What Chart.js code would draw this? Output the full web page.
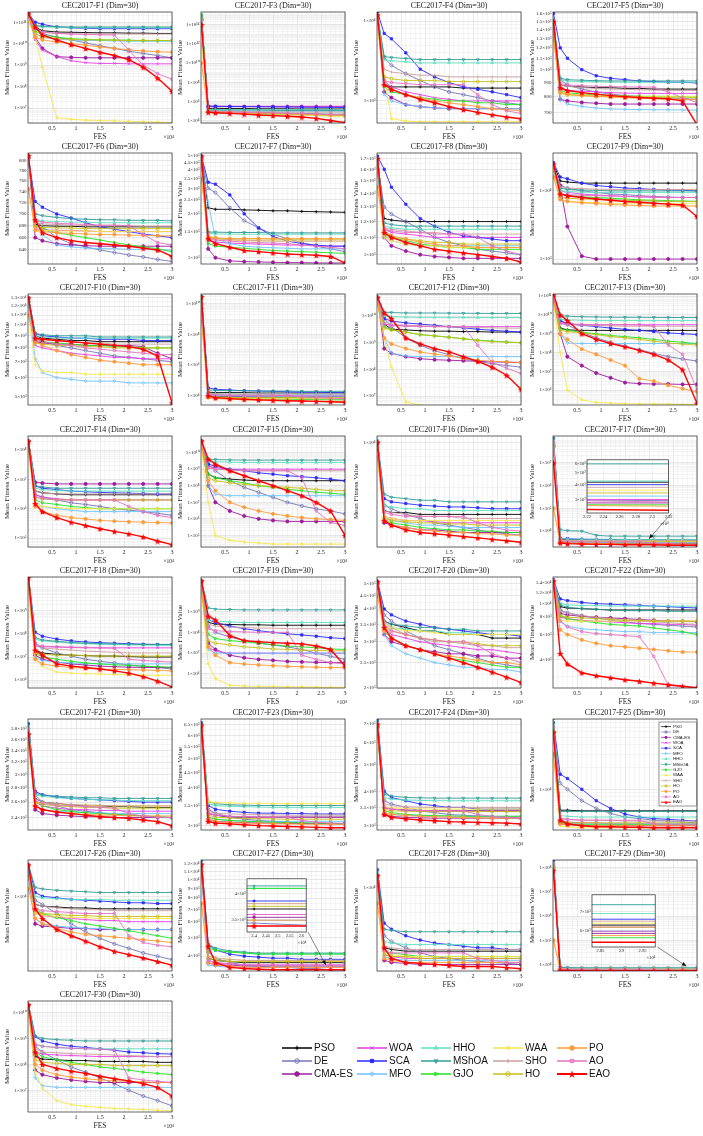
<!DOCTYPE html>
<html>
<head>
<meta charset="utf-8">
<title>CEC2017 convergence curves</title>
<script src="https://cdn.jsdelivr.net/npm/chart.js@4.4.1/dist/chart.umd.min.js"></script>
<style>
  html, body { margin: 0; padding: 0; background: #fff; }
  #page { position: relative; width: 703px; height: 1136px; overflow: hidden; background: #fff; }
  #page canvas { position: absolute; }
  .lg { position: absolute; font: 10px "Liberation Sans", Arial, sans-serif; color: #111; line-height: 14px; white-space: nowrap; }
</style>
</head>
<body>
<div id="page"></div>
<script>
var algos = ['PSO', 'DE', 'CMA-ES', 'WOA', 'SCA', 'MFO', 'HHO', 'MShOA', 'GJO', 'WAA', 'SHO', 'HO', 'PO', 'AO', 'EAO'];
var fes = [0.01, 0.15, 0.3, 0.6, 0.9, 1.2, 1.5, 1.8, 2.1, 2.4, 2.7, 3];   // x 10^4

// one row per algorithm (same order as algos), one value per fes point
var F1 = [
  [2e11,6e10,4e10,3.5e10,3.4e10,3.3e10,3.2e10,3.2e10,3.1e10,3.1e10,3e10,3e10],
  [2e11,7e10,3e10,2e10,1.5e10,1.1e10,8e9,6e9,4.5e9,3.5e9,2.8e9,2.2e9],
  [2e11,2e10,6e9,2.5e9,2.3e9,2.2e9,2.2e9,2.2e9,2.2e9,2.2e9,2.2e9,2.2e9],
  [2e11,1.5e10,5e9,2.5e9,1.6e9,1.3e9,1.2e9,1.2e9,1.15e9,1.15e9,1.15e9,1.15e9],
  [2.5e11,1e11,8e10,6e10,5.5e10,5.2e10,5e10,5e10,5e10,5e10,5e10,5e10],
  [2e11,3e10,2e10,1.6e10,1.5e10,1.4e10,1.4e10,1.35e10,1.3e10,1.3e10,1.3e10,1.3e10],
  [2.5e11,7e10,6e10,5.8e10,5.6e10,5.5e10,5.5e10,5.5e10,5.5e10,5.5e10,5.5e10,5.5e10],
  [2.5e11,7e10,6.5e10,6.2e10,6e10,6e10,6e10,6e10,6e10,6e10,6e10,6e10],
  [2e11,4e10,2.5e10,2e10,1.7e10,1.6e10,1.5e10,1.5e10,1.45e10,1.4e10,1.4e10,1.4e10],
  [1e11,2e10,8e8,3.5e6,3e6,2.7e6,2.6e6,2.5e6,2.4e6,2.3e6,2.2e6,2.1e6],
  [2e11,5e10,3.5e10,3e10,2.9e10,2.8e10,2.8e10,2.8e10,2.8e10,2.8e10,2.8e10,2.8e10],
  [2e11,3e10,2e10,1.7e10,1.6e10,1.5e10,1.5e10,1.45e10,1.4e10,1.4e10,1.4e10,1.4e10],
  [2e11,2e10,1.5e10,1.2e10,1e10,8.5e9,7e9,6e9,5.2e9,4.6e9,4.2e9,4e9],
  [2e11,5e10,3.5e10,3e10,2.8e10,2.7e10,2.6e10,2.5e10,5e9,1e9,4e8,2.2e8],
  [2.5e11,6e10,2.5e10,1.5e10,9e9,6e9,4e9,2.8e9,1.8e9,8e8,2.5e8,6e7]
];
var F3 = [
  [5e14,2e5,2e5,1.9e5,1.9e5,1.8e5,1.8e5,1.8e5,1.7e5,1.7e5,1.7e5,1.7e5],
  [3e14,1e5,9e4,8.5e4,8e4,7.5e4,7e4,6.5e4,6e4,5.5e4,5e4,5e4],
  [3e14,3e5,3e5,3e5,3e5,3e5,3e5,3e5,3e5,3e5,3e5,3e5],
  [1e14,3.3e5,3.3e5,3.3e5,3.3e5,3.3e5,3.3e5,3.3e5,3.3e5,3.3e5,3.3e5,3.3e5],
  [5e14,3.5e5,3.3e5,3.1e5,3e5,2.9e5,2.8e5,2.7e5,2.6e5,2.5e5,2.5e5,2.4e5],
  [3e14,1.2e5,1.1e5,1e5,1e5,1e5,1e5,1e5,1e5,1e5,1e5,1e5],
  [6e14,1.5e5,1.5e5,1.5e5,1.5e5,1.5e5,1.4e5,1.4e5,1.4e5,1.4e5,1.4e5,1.4e5],
  [8e14,1.3e5,1.3e5,1.3e5,1.3e5,1.3e5,1.2e5,1.2e5,1.2e5,1.2e5,1.2e5,1.2e5],
  [1.2e15,7e4,6.5e4,6e4,5.5e4,5e4,4.8e4,4.5e4,4.3e4,4e4,4e4,4e4],
  [1e12,9e4,8e4,7e4,6e4,5.5e4,5e4,4.5e4,4e4,3.5e4,3e4,2.5e4],
  [4e14,1e5,9.5e4,9e4,9e4,8.5e4,8.5e4,8.5e4,8e4,8e4,8e4,8e4],
  [4e14,8e4,7.5e4,7e4,6.5e4,6e4,5.5e4,5e4,4.8e4,4.5e4,4.2e4,4e4],
  [1e10,1e5,9e4,8e4,7e4,6.5e4,6e4,5.5e4,5e4,4.5e4,4e4,3.8e4],
  [2e14,9e4,8.5e4,8e4,7.5e4,7e4,6.5e4,6e4,5.5e4,5e4,4.5e4,4e4],
  [1e14,8e4,7e4,6e4,5e4,4e4,3.5e4,3e4,2.5e4,1.8e4,1.1e4,6.5e3]
];
var F4 = [
  [1.2e4,1.6e3,1.5e3,1.5e3,1.5e3,1.5e3,1.5e3,1.45e3,1.45e3,1.45e3,1.45e3,1.45e3],
  [1.1e4,3.5e3,2.8e3,2.2e3,1.8e3,1.5e3,1.3e3,1.2e3,1.1e3,1e3,950,900],
  [1.1e4,1.3e3,1.1e3,900,850,820,800,800,800,800,800,800],
  [1.2e4,1.8e3,1.5e3,1.3e3,1.2e3,1.1e3,1.05e3,1e3,1e3,1e3,1e3,1e3],
  [1.3e4,7e3,6e3,4e3,2.5e3,2e3,1.7e3,1.5e3,1.4e3,1.3e3,1.2e3,1.1e3],
  [1.1e4,1.2e3,1e3,900,850,820,800,800,800,800,800,800],
  [1.2e4,3.3e3,3.2e3,3.1e3,3e3,3e3,3e3,3e3,3e3,3e3,3e3,3e3],
  [1.2e4,3.6e3,3.5e3,3.4e3,3.3e3,3.3e3,3.3e3,3.3e3,3.3e3,3.3e3,3.3e3,3.3e3],
  [1.2e4,1.5e3,1.3e3,1.2e3,1.1e3,1.05e3,1e3,1e3,950,950,900,900],
  [8e3,2e3,600,560,550,550,550,550,550,550,550,550],
  [1.2e4,2.5e3,2.3e3,2.2e3,2.1e3,2.1e3,2e3,2e3,2e3,2e3,2e3,2e3],
  [1.2e4,2e3,1.9e3,1.8e3,1.8e3,1.8e3,1.75e3,1.75e3,1.75e3,1.75e3,1.75e3,1.75e3],
  [1e4,1.6e3,1.4e3,1.2e3,1.1e3,1e3,950,900,850,800,780,750],
  [1.1e4,1.8e3,1.7e3,1.65e3,1.6e3,1.6e3,1.6e3,1.6e3,1.2e3,900,750,700],
  [1.2e4,1.6e3,1.4e3,1.2e3,1.05e3,950,850,780,720,670,630,600]
];
var F5 = [
  [1.5e3,880,870,865,860,860,855,855,850,850,850,850],
  [1.45e3,920,880,850,830,815,805,800,795,790,785,780],
  [1.4e3,780,770,760,755,750,750,750,750,750,750,750],
  [1.5e3,850,840,835,830,825,822,820,820,820,820,820],
  [1.6e3,1.2e3,1.1e3,1e3,950,930,920,910,905,900,900,895],
  [1.4e3,780,750,735,725,720,718,716,715,715,714,712],
  [1.5e3,920,910,905,905,902,900,900,900,900,900,900],
  [1.5e3,930,920,915,912,910,910,910,910,910,910,910],
  [1.5e3,840,825,815,810,805,802,800,800,800,798,795],
  [1.3e3,830,815,810,805,802,800,800,800,800,800,800],
  [1.5e3,880,870,860,855,850,848,845,842,840,840,840],
  [1.4e3,820,810,805,800,797,795,793,792,791,790,790],
  [1.3e3,830,815,805,800,795,790,787,785,782,780,778],
  [1.5e3,890,880,875,870,868,866,865,864,830,790,760],
  [1.5e3,860,840,825,815,805,798,792,787,783,770,630]
];
var F6 = [
  [810,682,680,679,679,678,678,678,678,678,678,678],
  [805,690,678,660,650,645,640,636,632,629,625,622],
  [805,660,655,650,648,647,646,646,646,646,646,646],
  [805,675,673,672,672,671,670,670,670,670,670,670],
  [805,722,712,700,693,685,678,674,670,666,663,660],
  [800,695,665,648,645,643,642,642,641,641,640,640],
  [810,690,688,687,686,686,685,685,685,685,685,685],
  [810,700,697,694,692,691,690,690,689,689,689,688],
  [808,680,675,668,664,660,656,652,648,645,642,637],
  [745,672,672,671,671,671,670,670,670,670,670,670],
  [808,685,683,682,681,680,680,680,680,679,679,679],
  [808,678,677,676,676,675,675,675,675,675,675,675],
  [745,672,670,668,667,666,665,665,664,664,663,663],
  [805,688,686,684,683,682,681,681,680,665,652,648],
  [810,690,668,660,655,652,650,648,646,643,640,630]
];
var F7 = [
  [5e3,2.2e3,2.15e3,2.15e3,2.13e3,2.12e3,2.1e3,2.1e3,2.08e3,2.07e3,2.06e3,2.05e3],
  [4.8e3,3e3,2.8e3,2.2e3,1.8e3,1.6e3,1.45e3,1.35e3,1.27e3,1.2e3,1.15e3,1.1e3],
  [4.7e3,1.15e3,1e3,950,940,935,930,925,925,920,920,920],
  [4.8e3,1.3e3,1.28e3,1.26e3,1.25e3,1.24e3,1.23e3,1.22e3,1.22e3,1.21e3,1.2e3,1.2e3],
  [5e3,3.3e3,3.2e3,2.7e3,2e3,1.6e3,1.4e3,1.3e3,1.25e3,1.22e3,1.2e3,1.2e3],
  [4.5e3,2.4e3,1.35e3,1.25e3,1.2e3,1.18e3,1.17e3,1.16e3,1.15e3,1.15e3,1.15e3,1.15e3],
  [4.9e3,1.47e3,1.46e3,1.45e3,1.45e3,1.45e3,1.45e3,1.45e3,1.45e3,1.45e3,1.45e3,1.45e3],
  [5e3,1.5e3,1.5e3,1.49e3,1.49e3,1.49e3,1.48e3,1.48e3,1.48e3,1.48e3,1.48e3,1.48e3],
  [4.8e3,1.25e3,1.2e3,1.18e3,1.16e3,1.14e3,1.12e3,1.11e3,1.1e3,1.09e3,1.08e3,1.07e3],
  [3.5e3,1.35e3,1.33e3,1.32e3,1.31e3,1.3e3,1.3e3,1.3e3,1.3e3,1.3e3,1.3e3,1.3e3],
  [4.9e3,1.38e3,1.35e3,1.33e3,1.32e3,1.31e3,1.3e3,1.3e3,1.3e3,1.3e3,1.3e3,1.3e3],
  [4.8e3,1.38e3,1.36e3,1.35e3,1.35e3,1.35e3,1.34e3,1.34e3,1.34e3,1.34e3,1.34e3,1.34e3],
  [3.5e3,1.4e3,1.37e3,1.35e3,1.35e3,1.35e3,1.35e3,1.35e3,1.35e3,1.35e3,1.35e3,1.35e3],
  [4.8e3,1.35e3,1.32e3,1.3e3,1.28e3,1.27e3,1.26e3,1.25e3,1.22e3,1.2e3,1.18e3,1.15e3],
  [5e3,1.35e3,1.25e3,1.18e3,1.12e3,1.1e3,1.08e3,1.06e3,1.05e3,1.04e3,1.02e3,920]
];
var F8 = [
  [1.7e3,1.22e3,1.21e3,1.2e3,1.2e3,1.2e3,1.2e3,1.2e3,1.2e3,1.2e3,1.2e3,1.2e3],
  [1.65e3,1.3e3,1.25e3,1.2e3,1.15e3,1.1e3,1.07e3,1.05e3,1.03e3,1.02e3,1.01e3,1e3],
  [1.6e3,1.1e3,1.05e3,1.02e3,1e3,990,985,980,980,980,980,980],
  [1.65e3,1.15e3,1.13e3,1.12e3,1.11e3,1.1e3,1.1e3,1.1e3,1.1e3,1.1e3,1.1e3,1.1e3],
  [1.72e3,1.6e3,1.45e3,1.32e3,1.22e3,1.17e3,1.13e3,1.11e3,1.1e3,1.09e3,1.08e3,1.08e3],
  [1.6e3,1.12e3,1.08e3,1.06e3,1.05e3,1.05e3,1.05e3,1.05e3,1.05e3,1.05e3,1.05e3,1.05e3],
  [1.7e3,1.17e3,1.16e3,1.15e3,1.15e3,1.15e3,1.15e3,1.15e3,1.15e3,1.15e3,1.15e3,1.15e3],
  [1.7e3,1.19e3,1.18e3,1.17e3,1.17e3,1.17e3,1.17e3,1.17e3,1.17e3,1.17e3,1.17e3,1.17e3],
  [1.65e3,1.12e3,1.1e3,1.08e3,1.06e3,1.05e3,1.04e3,1.04e3,1.03e3,1.03e3,1.03e3,1.03e3],
  [1.45e3,1.1e3,1.08e3,1.06e3,1.05e3,1.05e3,1.04e3,1.04e3,1.04e3,1.04e3,1.04e3,1.04e3],
  [1.68e3,1.16e3,1.15e3,1.14e3,1.13e3,1.13e3,1.12e3,1.12e3,1.12e3,1.12e3,1.12e3,1.12e3],
  [1.65e3,1.12e3,1.1e3,1.09e3,1.08e3,1.07e3,1.07e3,1.06e3,1.06e3,1.06e3,1.06e3,1.06e3],
  [1.45e3,1.14e3,1.11e3,1.09e3,1.07e3,1.06e3,1.05e3,1.05e3,1.04e3,1.04e3,1.04e3,1.04e3],
  [1.65e3,1.15e3,1.14e3,1.13e3,1.13e3,1.12e3,1.12e3,1.12e3,1.1e3,1.05e3,1.02e3,1e3],
  [1.7e3,1.13e3,1.1e3,1.07e3,1.05e3,1.03e3,1.02e3,1.01e3,1e3,990,980,960]
];
var F9 = [
  [2.5e4,1.4e4,1.35e4,1.3e4,1.3e4,1.3e4,1.3e4,1.3e4,1.3e4,1.3e4,1.3e4,1.3e4],
  [2.2e4,1.2e4,1.1e4,1e4,9.5e3,9e3,8.8e3,8.5e3,8.3e3,8.1e3,8e3,8e3],
  [2.2e4,1.2e4,3e3,1.1e3,1e3,1e3,1e3,1e3,1e3,1e3,1e3,1e3],
  [2.3e4,1e4,9.5e3,9e3,8.7e3,8.5e3,8.3e3,8.2e3,8.1e3,8e3,8e3,8e3],
  [2.6e4,1.6e4,1.5e4,1.3e4,1.2e4,1.15e4,1.1e4,1.08e4,1.05e4,1.03e4,1.02e4,1e4],
  [2e4,9e3,8.5e3,8e3,7.7e3,7.5e3,7.3e3,7.2e3,7.1e3,7e3,7e3,7e3],
  [2.4e4,1e4,9.8e3,9.6e3,9.5e3,9.5e3,9.5e3,9.5e3,9.5e3,9.5e3,9.5e3,9.5e3],
  [2.4e4,1.1e4,1.05e4,1.03e4,1.02e4,1e4,1e4,1e4,1e4,1e4,1e4,1e4],
  [2.2e4,9e3,8.6e3,8.2e3,8e3,7.8e3,7.6e3,7.4e3,7.3e3,7.2e3,7.1e3,7e3],
  [1.6e4,7.5e3,7e3,6.8e3,6.7e3,6.6e3,6.5e3,6.5e3,6.5e3,6.5e3,6.5e3,6.5e3],
  [2.4e4,1.15e4,1.1e4,1.08e4,1.06e4,1.05e4,1.05e4,1.05e4,1.05e4,1.05e4,1.05e4,1.05e4],
  [2.2e4,8e3,7.8e3,7.6e3,7.5e3,7.4e3,7.3e3,7.2e3,7.1e3,7e3,7e3,7e3],
  [1.6e4,7.5e3,7e3,6.7e3,6.5e3,6.3e3,6.2e3,6.1e3,6e3,6e3,6e3,6e3],
  [2.3e4,9e3,8.8e3,8.6e3,8.5e3,8.4e3,8.3e3,8.2e3,8.1e3,8e3,8e3,8e3],
  [2.5e4,9e3,8.5e3,8e3,7.6e3,7.3e3,7e3,6.8e3,6.6e3,6.4e3,6.2e3,4.2e3]
];
var F10 = [
  [1.3e4,9e3,8.8e3,8.7e3,8.6e3,8.6e3,8.5e3,8.5e3,8.5e3,8.5e3,8.5e3,8.5e3],
  [1.25e4,8.8e3,8.5e3,8.2e3,8e3,7.8e3,7.6e3,7.4e3,7.3e3,7.2e3,7.1e3,7e3],
  [1.25e4,8.5e3,8.4e3,8.3e3,8.3e3,8.2e3,8.2e3,8.2e3,8.2e3,8.1e3,7.6e3,7.2e3],
  [1.25e4,8.2e3,8e3,7.8e3,7.6e3,7.5e3,7.4e3,7.3e3,7.3e3,7.2e3,7.2e3,7.2e3],
  [1.3e4,9.2e3,9e3,8.9e3,8.8e3,8.8e3,8.7e3,8.7e3,8.7e3,8.6e3,8.6e3,8.6e3],
  [1.2e4,7.2e3,6.3e3,6e3,5.9e3,5.8e3,5.8e3,5.8e3,5.7e3,5.7e3,5.7e3,5.7e3],
  [1.3e4,9e3,8.9e3,8.8e3,8.8e3,8.8e3,8.8e3,8.8e3,8.8e3,8.8e3,8.8e3,8.8e3],
  [1.3e4,9.2e3,9.1e3,9e3,9e3,9e3,8.9e3,8.9e3,8.9e3,8.9e3,8.9e3,8.9e3],
  [1.25e4,8.6e3,8.5e3,8.4e3,8.3e3,8.2e3,8.2e3,8.1e3,8.1e3,8e3,8e3,8e3],
  [1.1e4,6.8e3,6.4e3,6.3e3,6.3e3,6.2e3,6.2e3,6.2e3,6.2e3,6.2e3,6.2e3,6.2e3],
  [1.3e4,8.8e3,8.7e3,8.6e3,8.5e3,8.4e3,8.4e3,8.3e3,8.3e3,8.3e3,8.3e3,8.3e3],
  [1.25e4,8.4e3,8.3e3,8.2e3,8.2e3,8.1e3,8.1e3,8e3,8e3,8e3,8e3,8e3],
  [1.1e4,8.5e3,8.2e3,7.8e3,7.5e3,7.3e3,7.1e3,7e3,6.9e3,6.8e3,6.8e3,6.8e3],
  [1.25e4,8.6e3,8.5e3,8.3e3,8.2e3,8e3,7.9e3,7.8e3,7.7e3,7.6e3,7.5e3,7.5e3],
  [1.3e4,8.8e3,8.7e3,8.6e3,8.5e3,8.4e3,8.3e3,8.2e3,8.1e3,7.9e3,7.4e3,4.7e3]
];
var F11 = [
  [2e10,1.6e4,1.5e4,1.5e4,1.5e4,1.4e4,1.4e4,1.4e4,1.4e4,1.4e4,1.4e4,1.4e4],
  [1e10,1.3e4,1.1e4,9e3,8e3,7.5e3,7e3,6.5e3,6.2e3,6e3,5.8e3,5.5e3],
  [5e9,9e3,8.5e3,8e3,8e3,8e3,8e3,8e3,8e3,8e3,8e3,8e3],
  [1e10,1.1e4,1e4,1e4,1e4,1e4,1e4,1e4,1e4,1e4,1e4,1e4],
  [3e10,3e4,2.5e4,2.2e4,2e4,1.9e4,1.8e4,1.7e4,1.6e4,1.6e4,1.5e4,1.5e4],
  [1e10,1.1e4,1e4,9.5e3,9e3,9e3,9e3,9e3,9e3,9e3,9e3,9e3],
  [3e10,1.3e4,1.25e4,1.2e4,1.2e4,1.2e4,1.2e4,1.2e4,1.2e4,1.2e4,1.2e4,1.2e4],
  [3e10,2.2e4,2.1e4,2e4,2e4,1.9e4,1.9e4,1.9e4,1.8e4,1.8e4,1.8e4,1.8e4],
  [2e10,9e3,8e3,7e3,6.5e3,6e3,5.8e3,5.5e3,5.3e3,5.2e3,5e3,5e3],
  [1e9,7e3,6.5e3,6.2e3,6e3,6e3,6e3,6e3,6e3,6e3,6e3,6e3],
  [2e10,1.3e4,1.25e4,1.2e4,1.2e4,1.2e4,1.2e4,1.2e4,1.2e4,1.2e4,1.2e4,1.2e4],
  [1e10,8e3,7.5e3,7.2e3,7e3,7e3,7e3,7e3,7e3,7e3,7e3,7e3],
  [1e9,7e3,6e3,5.5e3,5e3,4.8e3,4.6e3,4.4e3,4.2e3,4.1e3,4e3,4e3],
  [1e10,1.1e4,1.05e4,1e4,1e4,1e4,1e4,1e4,8e3,7e3,6.5e3,6e3],
  [3e10,9e3,7e3,6e3,5.5e3,5e3,4.7e3,4.4e3,4.2e3,4e3,3.8e3,3.5e3]
];
var F12 = [
  [5e10,5e9,3.2e9,3e9,2.8e9,2.7e9,2.7e9,2.6e9,2.6e9,2.5e9,2.5e9,2.5e9],
  [5e10,8e9,4e9,1.5e9,8e8,5e8,3.5e8,2.5e8,2e8,1.6e8,1.4e8,1.2e8],
  [5e10,6e8,4e8,3e8,2.5e8,2.3e8,2.2e8,2.1e8,2e8,1.9e8,1.85e8,1.8e8],
  [5e10,5e9,4.5e9,4.2e9,4.1e9,4e9,4e9,4e9,4e9,4e9,4e9,4e9],
  [5e10,8e9,6.5e9,5.5e9,5e9,4.5e9,4e9,3.6e9,3.2e9,2.9e9,2.7e9,2.5e9],
  [5e10,1.5e9,4e8,3.2e8,3e8,3e8,3e8,3e8,3e8,3e8,3e8,3e8],
  [5e10,1e10,9.5e9,9.2e9,9e9,9e9,8.9e9,8.9e9,8.8e9,8.8e9,8.8e9,8.8e9],
  [5e10,1.4e10,1.35e10,1.3e10,1.3e10,1.3e10,1.28e10,1.27e10,1.26e10,1.25e10,1.25e10,1.25e10],
  [5e10,4e9,3e9,2.5e9,2e9,1.8e9,1.6e9,1.4e9,1.25e9,1.15e9,1.05e9,1e9],
  [3e10,1.5e9,1.2e8,6e6,4.5e6,4.2e6,4e6,4e6,3.9e6,3.8e6,3.7e6,3.6e6],
  [5e10,6e9,5e9,4.5e9,4.2e9,4e9,3.9e9,3.8e9,3.7e9,3.6e9,3.5e9,3.5e9],
  [5e10,3.5e9,3e9,2.5e9,2e9,1.8e9,1.6e9,1.4e9,1.2e9,1.1e9,1.05e9,1e9],
  [3e10,1.5e9,9e8,6e8,4.5e8,3.7e8,3.2e8,2.6e8,2.2e8,2e8,1.9e8,1.8e8],
  [5e10,5e9,4.5e9,4.3e9,4.2e9,4.1e9,4e9,4e9,8e8,1.8e8,1.1e8,7e7],
  [5e10,1.3e10,8e9,1.5e9,9e8,6e8,4.5e8,3e8,2e8,1.2e8,6e7,1.8e7]
];
var F13 = [
  [1e11,2e9,1.6e9,1.5e9,1.5e9,1.5e9,1.5e9,1.5e9,1.5e9,1.5e9,1.5e9,1.5e9],
  [1e11,5e9,3e9,1.2e9,6e8,3.5e8,2.2e8,1.4e8,9e7,6e7,4.5e7,3.5e7],
  [1e11,1e9,6e7,2e7,8e6,4.5e6,2.5e6,2.2e6,2.1e6,2.1e6,2e6,2e6],
  [1e11,4e9,3.3e9,3.1e9,3e9,3e9,3e9,3e9,3e9,3e9,3e9,3e9],
  [1e11,5e9,3.5e9,2.8e9,2.4e9,2e9,1.7e9,1.5e9,1.3e9,1.1e9,1e9,9e8],
  [1e11,1e9,3.2e8,3e8,3e8,3e8,3e8,3e8,3e8,3e8,3e8,3e8],
  [1e11,6e9,5.5e9,5.2e9,5e9,5e9,5e9,5e9,5e9,5e9,5e9,5e9],
  [1e11,9e9,8.5e9,8e9,7.8e9,7.6e9,7.5e9,7.5e9,7.4e9,7.3e9,7.3e9,7.2e9],
  [1e11,1.8e9,1.5e9,1.2e9,1e9,8e8,7e8,6e8,5e8,4e8,3.5e8,3e8],
  [5e10,1e8,1e6,3e5,2.2e5,2e5,1.9e5,1.8e5,1.8e5,1.8e5,1.7e5,1.7e5],
  [1e11,3.5e9,3e9,2.8e9,2.7e9,2.6e9,2.5e9,2.5e9,2.5e9,2.5e9,2.5e9,2.5e9],
  [1e11,1.5e9,1.3e9,1.1e9,9e8,7e8,6e8,5e8,4e8,3.2e8,2.8e8,2.5e8],
  [5e10,1e9,5e8,1.5e8,8e7,4e7,2e7,4e6,3e6,1.8e6,1.2e6,8e5],
  [1e11,3.5e9,3.2e9,3e9,3e9,3e9,3e9,3e9,2.5e9,2.5e8,8e7,1e6],
  [1.3e11,1e10,5e9,1e9,5e8,3e8,2e8,1.3e8,8e7,4e7,1.2e7,2e5]
];
var F14 = [
  [2e8,4e6,3.5e6,3.2e6,3e6,3e6,3e6,3e6,3e6,3e6,3e6,3e6],
  [2e8,3e6,2.5e6,2e6,1.6e6,1.4e6,1.2e6,1e6,9e5,8e5,7e5,6e5],
  [2e8,8e6,7.5e6,7e6,7e6,7e6,7e6,7e6,7e6,7e6,7e6,7e6],
  [2e8,3e6,2.5e6,2.2e6,2e6,2e6,2e6,2e6,2e6,2e6,2e6,2e6],
  [2e8,6e6,5e6,4.5e6,4e6,3.8e6,3.6e6,3.5e6,3.4e6,3.3e6,3.2e6,3.2e6],
  [2e8,1.5e6,1.2e6,1e6,9e5,8e5,8e5,8e5,8e5,8e5,8e5,8e5],
  [2e8,5e6,4.5e6,4.2e6,4e6,4e6,4e6,4e6,4e6,4e6,4e6,4e6],
  [2e8,6e6,5.5e6,5e6,5e6,5e6,5e6,5e6,5e6,5e6,5e6,5e6],
  [2e8,2e6,1.6e6,1.4e6,1.2e6,1.1e6,1e6,1e6,1e6,1e6,1e6,1e6],
  [1e8,1.5e6,1.2e6,1.1e6,1e6,1e6,1e6,1e6,1e6,1e6,1e6,1e6],
  [2e8,4e6,3.5e6,3.2e6,3.2e6,3.2e6,3.2e6,3.2e6,3.2e6,3.2e6,3.2e6,3.2e6],
  [2e8,2.5e6,2.2e6,2e6,2e6,2e6,2e6,2e6,2e6,2e6,2e6,2e6],
  [1e8,1.2e6,8e5,6e5,5e5,4.5e5,4e5,3.8e5,3.6e5,3.5e5,3.4e5,3.3e5],
  [2e8,2.5e6,2.2e6,2e6,2e6,2e6,2e6,2e6,1.2e6,8e5,6e5,5e5],
  [2e8,1.5e6,8e5,5e5,3.5e5,2.7e5,2.1e5,1.7e5,1.4e5,1.1e5,8e4,6e4]
];
var F15 = [
  [5e10,5e8,3e8,2.5e8,2.2e8,2e8,2e8,2e8,2e8,2e8,2e8,2e8],
  [5e10,2e9,8e8,2e8,8e7,4e7,2e7,1e7,6e6,4e6,3e6,2e6],
  [5e10,1e8,1e7,3e6,1.5e6,1e6,8e5,7e5,7e5,7e5,7e5,7e5],
  [5e10,1.5e9,1.2e9,1e9,1e9,1e9,1e9,1e9,1e9,1e9,1e9,1e9],
  [5e10,2e9,1.5e9,1e9,8e8,6e8,5e8,4e8,3.5e8,3e8,2.5e8,2e8],
  [5e10,1e8,3e7,2.5e7,2.5e7,2.5e7,2.5e7,2.5e7,2.5e7,2.5e7,2.5e7,2.5e7],
  [5e10,3e9,2.8e9,2.6e9,2.5e9,2.5e9,2.5e9,2.5e9,2.5e9,2.5e9,2.5e9,2.5e9],
  [5e10,4e9,3.8e9,3.6e9,3.5e9,3.5e9,3.5e9,3.5e9,3.5e9,3.5e9,3.5e9,3.5e9],
  [5e10,5e8,3e8,2e8,1.5e8,1e8,8e7,6e7,5e7,4e7,3.5e7,3e7],
  [2e10,1e7,1e5,5e4,4e4,3.5e4,3e4,3e4,3e4,3e4,3e4,3e4],
  [5e10,1.2e9,1e9,9e8,8e8,8e8,8e8,8e8,8e8,8e8,8e8,8e8],
  [5e10,3e8,2e8,1.5e8,1.2e8,1e8,9e7,8e7,7e7,6e7,5e7,5e7],
  [2e10,2e8,5e7,1e7,5e6,3e6,2e6,1.5e6,1.2e6,1e6,9e5,8e5],
  [5e10,1.2e9,1e9,9e8,8e8,8e8,8e8,8e8,3e8,3e6,6e5,4e5],
  [5e10,4e9,2e9,8e8,4e8,2e8,1e8,5e7,2.5e7,1e7,3e6,1e5]
];
var F16 = [
  [1e4,3.5e3,3.4e3,3.4e3,3.3e3,3.3e3,3.3e3,3.3e3,3.3e3,3.3e3,3.3e3,3.3e3],
  [1e4,3.8e3,3.6e3,3.3e3,3.1e3,2.9e3,2.8e3,2.7e3,2.6e3,2.5e3,2.45e3,2.4e3],
  [1e4,2.9e3,2.8e3,2.7e3,2.6e3,2.6e3,2.55e3,2.5e3,2.5e3,2.5e3,2.5e3,2.5e3],
  [1e4,3.2e3,3.1e3,3e3,3e3,2.95e3,2.9e3,2.9e3,2.9e3,2.9e3,2.9e3,2.9e3],
  [1e4,4.2e3,4e3,3.9e3,3.8e3,3.75e3,3.7e3,3.7e3,3.65e3,3.6e3,3.6e3,3.6e3],
  [1.05e4,3.2e3,3e3,2.9e3,2.8e3,2.8e3,2.75e3,2.7e3,2.7e3,2.7e3,2.7e3,2.7e3],
  [1e4,3.8e3,3.7e3,3.6e3,3.6e3,3.5e3,3.5e3,3.5e3,3.5e3,3.5e3,3.5e3,3.5e3],
  [1e4,4.5e3,4.3e3,4.2e3,4.1e3,4.1e3,4e3,4e3,4e3,4e3,4e3,4e3],
  [1e4,3e3,2.9e3,2.8e3,2.7e3,2.65e3,2.6e3,2.6e3,2.55e3,2.55e3,2.5e3,2.5e3],
  [8e3,3.2e3,3.1e3,3e3,3e3,3e3,3e3,3e3,3e3,3e3,3e3,3e3],
  [1e4,3.5e3,3.4e3,3.3e3,3.2e3,3.2e3,3.2e3,3.1e3,3.1e3,3.1e3,3.1e3,3.1e3],
  [1e4,3.1e3,3e3,2.95e3,2.9e3,2.9e3,2.85e3,2.85e3,2.8e3,2.8e3,2.8e3,2.8e3],
  [8e3,3e3,2.8e3,2.7e3,2.6e3,2.55e3,2.5e3,2.5e3,2.45e3,2.45e3,2.4e3,2.4e3],
  [1e4,3.4e3,3.3e3,3.2e3,3.2e3,3.2e3,3.2e3,3.2e3,2.9e3,2.7e3,2.6e3,2.55e3],
  [1e4,3e3,2.8e3,2.6e3,2.5e3,2.45e3,2.4e3,2.35e3,2.3e3,2.25e3,2.2e3,2.15e3]
];
var F17 = [
  [8e7,4.2e3,4.2e3,4.2e3,4.2e3,4.2e3,4.2e3,4.2e3,4.2e3,4.2e3,4.2e3,4.2e3],
  [6e7,3.8e3,3.6e3,3.4e3,3.3e3,3.2e3,3.1e3,3e3,3e3,2.9e3,2.9e3,2.9e3],
  [5e7,3e3,2.9e3,2.9e3,2.8e3,2.8e3,2.8e3,2.8e3,2.8e3,2.8e3,2.8e3,2.8e3],
  [8e7,3.3e3,3.2e3,3.1e3,3.1e3,3.1e3,3e3,3e3,3e3,3e3,3e3,3e3],
  [1.2e8,4.8e3,4.6e3,4.4e3,4.3e3,4.2e3,4.1e3,4e3,4e3,4e3,4e3,4e3],
  [5e7,3.4e3,3.3e3,3.2e3,3.2e3,3.2e3,3.2e3,3.2e3,3.2e3,3.2e3,3.2e3,3.2e3],
  [1e8,4.6e3,4.5e3,4.4e3,4.4e3,4.4e3,4.3e3,4.3e3,4.3e3,4.3e3,4.3e3,4.3e3],
  [1.2e8,1.15e4,1.05e4,1e4,6.5e3,6e3,6e3,6e3,6e3,6e3,6e3,6e3],
  [8e7,3e3,2.9e3,2.8e3,2.8e3,2.7e3,2.7e3,2.7e3,2.7e3,2.7e3,2.7e3,2.7e3],
  [1e5,3.8e3,3.7e3,3.6e3,3.6e3,3.6e3,3.6e3,3.6e3,3.6e3,3.6e3,3.6e3,3.6e3],
  [8e7,4e3,3.9e3,3.8e3,3.8e3,3.8e3,3.8e3,3.8e3,3.8e3,3.8e3,3.8e3,3.8e3],
  [6e7,3.5e3,3.4e3,3.4e3,3.4e3,3.4e3,3.4e3,3.4e3,3.4e3,3.4e3,3.4e3,3.4e3],
  [1e5,3.2e3,3e3,2.9e3,2.8e3,2.8e3,2.7e3,2.7e3,2.7e3,2.6e3,2.6e3,2.6e3],
  [8e7,3.6e3,3.5e3,3.4e3,3.4e3,3.4e3,3.4e3,3.4e3,3e3,2.8e3,2.7e3,2.6e3],
  [1e7,3e3,2.8e3,2.7e3,2.6e3,2.6e3,2.5e3,2.5e3,2.5e3,2.4e3,2.4e3,2.4e3]
];
var F18 = [
  [3e10,2e7,1.5e7,1.3e7,1.2e7,1.15e7,1.1e7,1.1e7,1.05e7,1e7,1e7,1e7],
  [3e10,4e7,2.5e7,1.5e7,1.1e7,8e6,6.5e6,5.5e6,4.5e6,4e6,3.5e6,3e6],
  [3e10,1.2e7,8e6,6e6,5e6,4.5e6,4e6,3.8e6,3.6e6,3.5e6,3.5e6,3.5e6],
  [3e10,3e7,2.8e7,2.7e7,2.6e7,2.5e7,2.5e7,2.5e7,2.5e7,2.5e7,2.5e7,2.5e7],
  [3e10,1.2e8,8e7,6e7,5e7,4.5e7,4.2e7,4e7,3.8e7,3.6e7,3.5e7,3.5e7],
  [3e10,1e7,7e6,6e6,5.5e6,5.2e6,5e6,5e6,5e6,5e6,5e6,5e6],
  [3e10,6e7,5e7,4.5e7,4e7,3.8e7,3.6e7,3.5e7,3.4e7,3.3e7,3.2e7,3.2e7],
  [3e10,7e7,5.5e7,4.8e7,4.3e7,4e7,3.8e7,3.7e7,3.6e7,3.5e7,3.5e7,3.5e7],
  [3e10,1.5e7,1e7,8e6,6.5e6,5.5e6,5e6,4.6e6,4.3e6,4e6,3.8e6,3.6e6],
  [1e10,8e6,4e6,2.2e6,2e6,1.9e6,1.8e6,1.75e6,1.7e6,1.65e6,1.6e6,1.6e6],
  [3e10,3e7,2.5e7,2.2e7,2e7,1.8e7,1.7e7,1.6e7,1.5e7,1.5e7,1.5e7,1.5e7],
  [3e10,1.5e7,1.3e7,1.2e7,1.2e7,1.15e7,1.1e7,1.1e7,1.1e7,1.1e7,1.1e7,1.1e7],
  [1e10,8e6,5e6,4e6,3.5e6,3.2e6,3e6,2.9e6,2.8e6,2.7e6,2.6e6,2.5e6],
  [3e10,3.5e7,3e7,2.8e7,2.7e7,2.6e7,2.5e7,2.4e7,8e6,7e6,6.5e6,6e6],
  [3e10,2e7,1.2e7,5e6,4e6,3.5e6,3e6,2.5e6,2e6,1.4e6,9e5,5e5]
];
var F19 = [
  [3e10,3e8,2.5e8,2.4e8,2.3e8,2.3e8,2.2e8,2.2e8,2.2e8,2.2e8,2.2e8,2.2e8],
  [3e10,2e8,1e8,6e7,4e7,3e7,2.5e7,2e7,1.5e7,1e7,7e6,5e6],
  [3e10,3e7,1.5e7,8e6,6e6,5e6,4.5e6,4e6,3.8e6,3.6e6,3.5e6,3.5e6],
  [3e10,2e7,1.2e7,1e7,1e7,1e7,1e7,1e7,1e7,1e7,1e7,1e7],
  [3e10,4e8,3e8,2e8,1.5e8,1.2e8,1e8,8.5e7,7.5e7,6.5e7,5.5e7,5e7],
  [3e10,1.5e7,1e7,1e7,1e7,1e7,1e7,1e7,1e7,1e7,1e7,1e7],
  [3e10,4e8,3.5e8,3.2e8,3e8,3e8,3e8,3e8,3e8,3e8,3e8,3e8],
  [3e10,1.5e9,1.3e9,1.25e9,1.2e9,1.2e9,1.2e9,1.2e9,1.2e9,1.2e9,1.2e9,1.2e9],
  [3e10,8e7,5e7,4e7,3.5e7,3e7,2.5e7,2.2e7,2e7,1.8e7,1.6e7,1.5e7],
  [1e10,3e6,6e5,2.8e5,2.6e5,2.5e5,2.5e5,2.4e5,2.4e5,2.3e5,2.3e5,2.3e5],
  [3e10,2.5e8,2e8,1.8e8,1.7e8,1.6e8,1.6e8,1.5e8,1.5e8,1.5e8,1.5e8,1.5e8],
  [3e10,4e7,3e7,2.5e7,2e7,1.8e7,1.6e7,1.5e7,1.4e7,1.35e7,1.3e7,1.3e7],
  [1e10,2e7,8e6,3.5e6,3e6,2.7e6,2.5e6,2.3e6,2.2e6,2.1e6,2e6,2e6],
  [3e10,1.5e8,1.2e8,1.1e8,1.05e8,1e8,1e8,1e8,8e6,5e6,3.5e6,3e6],
  [3e10,6e8,4e8,7e7,4e7,3.5e7,3.2e7,3e7,2.8e7,2.2e7,1.5e7,2.4e6]
];
var F20 = [
  [5e3,3.6e3,3.5e3,3.4e3,3.3e3,3.3e3,3.2e3,3.2e3,3.2e3,3.1e3,3.1e3,3.1e3],
  [5e3,3.8e3,3.6e3,3.3e3,3.1e3,2.9e3,2.8e3,2.7e3,2.6e3,2.5e3,2.45e3,2.4e3],
  [5e3,3.2e3,3e3,2.9e3,2.8e3,2.75e3,2.7e3,2.7e3,2.65e3,2.65e3,2.6e3,2.6e3],
  [5e3,3.4e3,3.2e3,3.1e3,3e3,2.95e3,2.9e3,2.85e3,2.8e3,2.8e3,2.75e3,2.7e3],
  [5.1e3,4e3,3.8e3,3.6e3,3.5e3,3.4e3,3.35e3,3.3e3,3.25e3,3.2e3,3.2e3,3.15e3],
  [4.8e3,3.2e3,2.9e3,2.7e3,2.6e3,2.5e3,2.45e3,2.4e3,2.4e3,2.35e3,2.35e3,2.3e3],
  [5e3,3.5e3,3.4e3,3.35e3,3.3e3,3.3e3,3.25e3,3.25e3,3.2e3,3.2e3,3.2e3,3.2e3],
  [5e3,3.6e3,3.5e3,3.45e3,3.4e3,3.4e3,3.35e3,3.35e3,3.3e3,3.3e3,3.3e3,3.3e3],
  [5e3,3.3e3,3.1e3,2.9e3,2.8e3,2.7e3,2.6e3,2.55e3,2.5e3,2.45e3,2.4e3,2.4e3],
  [4.5e3,3.5e3,3.4e3,3.3e3,3.3e3,3.25e3,3.2e3,3.2e3,3.2e3,3.2e3,3.2e3,3.2e3],
  [5e3,3.6e3,3.4e3,3.2e3,3.1e3,3e3,3e3,2.95e3,2.9e3,2.9e3,2.85e3,2.85e3],
  [5e3,3.4e3,3.3e3,3.2e3,3.1e3,3.05e3,3e3,3e3,2.95e3,2.9e3,2.9e3,2.9e3],
  [4.5e3,3.3e3,3.1e3,2.9e3,2.8e3,2.7e3,2.65e3,2.6e3,2.55e3,2.5e3,2.5e3,2.45e3],
  [5e3,3.5e3,3.3e3,3.2e3,3.1e3,3.05e3,3e3,3e3,2.9e3,2.7e3,2.6e3,2.5e3],
  [5.1e3,3.4e3,3.1e3,2.9e3,2.8e3,2.7e3,2.6e3,2.5e3,2.4e3,2.3e3,2.2e3,2.1e3]
];
var F21 = [
  [3.8e3,2.65e3,2.6e3,2.58e3,2.56e3,2.55e3,2.55e3,2.54e3,2.54e3,2.53e3,2.53e3,2.53e3],
  [3.7e3,2.7e3,2.6e3,2.55e3,2.5e3,2.48e3,2.46e3,2.44e3,2.43e3,2.42e3,2.41e3,2.4e3],
  [3.7e3,2.5e3,2.45e3,2.43e3,2.42e3,2.41e3,2.41e3,2.4e3,2.4e3,2.4e3,2.4e3,2.4e3],
  [3.8e3,2.6e3,2.55e3,2.52e3,2.5e3,2.5e3,2.49e3,2.49e3,2.48e3,2.48e3,2.48e3,2.48e3],
  [3.9e3,2.75e3,2.7e3,2.67e3,2.65e3,2.64e3,2.63e3,2.62e3,2.61e3,2.6e3,2.6e3,2.6e3],
  [3.7e3,2.55e3,2.5e3,2.48e3,2.47e3,2.46e3,2.46e3,2.45e3,2.45e3,2.45e3,2.45e3,2.45e3],
  [3.8e3,2.7e3,2.68e3,2.66e3,2.65e3,2.64e3,2.63e3,2.63e3,2.62e3,2.62e3,2.62e3,2.62e3],
  [3.9e3,2.72e3,2.7e3,2.68e3,2.67e3,2.66e3,2.66e3,2.65e3,2.65e3,2.65e3,2.65e3,2.65e3],
  [3.8e3,2.6e3,2.55e3,2.5e3,2.48e3,2.46e3,2.45e3,2.44e3,2.43e3,2.42e3,2.41e3,2.4e3],
  [3.5e3,2.6e3,2.58e3,2.57e3,2.56e3,2.56e3,2.55e3,2.55e3,2.55e3,2.55e3,2.55e3,2.55e3],
  [3.8e3,2.65e3,2.6e3,2.58e3,2.57e3,2.56e3,2.56e3,2.55e3,2.55e3,2.55e3,2.55e3,2.55e3],
  [3.7e3,2.6e3,2.57e3,2.55e3,2.54e3,2.53e3,2.53e3,2.52e3,2.52e3,2.52e3,2.52e3,2.52e3],
  [3.5e3,2.55e3,2.5e3,2.47e3,2.45e3,2.44e3,2.43e3,2.43e3,2.42e3,2.42e3,2.42e3,2.42e3],
  [3.8e3,2.62e3,2.58e3,2.56e3,2.55e3,2.54e3,2.53e3,2.52e3,2.45e3,2.42e3,2.4e3,2.4e3],
  [3.7e3,2.55e3,2.5e3,2.47e3,2.45e3,2.43e3,2.41e3,2.4e3,2.39e3,2.37e3,2.35e3,2.3e3]
];
var F22 = [
  [1.45e4,9.5e3,9.3e3,9.2e3,9.1e3,9e3,9e3,9e3,9e3,9e3,9e3,9e3],
  [1.45e4,9e3,8.6e3,8.2e3,7.9e3,7.6e3,7.4e3,7.2e3,7.1e3,7e3,6.9e3,6.8e3],
  [1.45e4,8.5e3,8.3e3,8.1e3,8e3,7.9e3,7.8e3,7.7e3,7.6e3,7.5e3,7.5e3,7.4e3],
  [1.45e4,8e3,7.8e3,7.6e3,7.5e3,7.4e3,7.3e3,7.2e3,7.2e3,7.1e3,7.1e3,7e3],
  [1.48e4,1.08e4,1.05e4,1.02e4,1e4,9.9e3,9.8e3,9.7e3,9.6e3,9.5e3,9.4e3,9.3e3],
  [1.4e4,7.5e3,6.9e3,6.6e3,6.5e3,6.4e3,6.3e3,6.3e3,6.2e3,6.2e3,6.2e3,6.2e3],
  [1.45e4,1e4,9.8e3,9.7e3,9.7e3,9.6e3,9.6e3,9.6e3,9.6e3,9.6e3,9.6e3,9.6e3],
  [1.45e4,9.8e3,9.4e3,9.2e3,9.1e3,9e3,8.9e3,8.9e3,8.9e3,8.8e3,8.8e3,8.8e3],
  [1.45e4,8.2e3,7.8e3,7.5e3,7.3e3,7.1e3,7e3,6.9e3,6.7e3,6.5e3,6.3e3,6e3],
  [1.3e4,7.6e3,7.5e3,7.5e3,7.5e3,7.5e3,7.5e3,7.5e3,7.5e3,7.5e3,7.5e3,7.5e3],
  [1.45e4,8.8e3,8.5e3,8.2e3,8e3,7.8e3,7.6e3,7.5e3,7.4e3,7.3e3,7.2e3,7.1e3],
  [1.45e4,8.2e3,8e3,7.9e3,7.8e3,7.7e3,7.6e3,7.6e3,7.5e3,7.5e3,7.5e3,7.5e3],
  [1.3e4,6.5e3,6e3,5.5e3,5.2e3,5e3,4.9e3,4.8e3,4.7e3,4.6e3,4.5e3,4.5e3],
  [1.45e4,7.5e3,6.8e3,6.3e3,6.1e3,6e3,5.9e3,5.8e3,4.2e3,2.6e3,2.55e3,2.5e3],
  [1.45e4,4.4e3,3.7e3,3.2e3,3.05e3,2.95e3,2.85e3,2.78e3,2.7e3,2.63e3,2.56e3,2.5e3]
];
var F23 = [
  [6.5e3,3.3e3,3.25e3,3.2e3,3.2e3,3.2e3,3.2e3,3.2e3,3.2e3,3.2e3,3.2e3,3.2e3],
  [6.3e3,3.4e3,3.3e3,3.2e3,3.15e3,3.12e3,3.1e3,3.08e3,3.06e3,3.05e3,3.04e3,3.03e3],
  [6.2e3,3.15e3,3.1e3,3.08e3,3.07e3,3.06e3,3.06e3,3.05e3,3.05e3,3.05e3,3.05e3,3.05e3],
  [6.4e3,3.3e3,3.25e3,3.22e3,3.21e3,3.2e3,3.2e3,3.2e3,3.2e3,3.2e3,3.2e3,3.2e3],
  [6.6e3,3.5e3,3.4e3,3.35e3,3.32e3,3.3e3,3.3e3,3.29e3,3.29e3,3.28e3,3.28e3,3.28e3],
  [6.2e3,3.2e3,3.15e3,3.12e3,3.11e3,3.1e3,3.1e3,3.1e3,3.1e3,3.1e3,3.1e3,3.1e3],
  [6.5e3,3.55e3,3.5e3,3.48e3,3.47e3,3.46e3,3.45e3,3.45e3,3.45e3,3.45e3,3.45e3,3.45e3],
  [6.6e3,3.6e3,3.55e3,3.52e3,3.51e3,3.5e3,3.5e3,3.5e3,3.5e3,3.5e3,3.5e3,3.5e3],
  [6.4e3,3.2e3,3.15e3,3.12e3,3.1e3,3.09e3,3.08e3,3.07e3,3.06e3,3.06e3,3.05e3,3.05e3],
  [6e3,3.6e3,3.58e3,3.57e3,3.56e3,3.56e3,3.55e3,3.55e3,3.55e3,3.55e3,3.55e3,3.55e3],
  [6.5e3,3.35e3,3.3e3,3.28e3,3.27e3,3.26e3,3.26e3,3.25e3,3.25e3,3.25e3,3.25e3,3.25e3],
  [6.3e3,3.25e3,3.2e3,3.18e3,3.17e3,3.16e3,3.16e3,3.15e3,3.15e3,3.15e3,3.15e3,3.15e3],
  [6e3,3.15e3,3.1e3,3.07e3,3.06e3,3.05e3,3.04e3,3.04e3,3.03e3,3.03e3,3.03e3,3.03e3],
  [6.4e3,3.3e3,3.25e3,3.22e3,3.21e3,3.2e3,3.2e3,3.2e3,3.12e3,3.08e3,3.06e3,3.05e3],
  [6.5e3,3.1e3,3.06e3,3.04e3,3.02e3,3e3,2.99e3,2.98e3,2.97e3,2.96e3,2.95e3,2.95e3]
];
var F24 = [
  [7e3,3.5e3,3.45e3,3.42e3,3.4e3,3.4e3,3.4e3,3.4e3,3.4e3,3.4e3,3.4e3,3.4e3],
  [6.8e3,3.7e3,3.6e3,3.5e3,3.4e3,3.35e3,3.3e3,3.28e3,3.26e3,3.24e3,3.22e3,3.2e3],
  [6.8e3,3.3e3,3.25e3,3.22e3,3.21e3,3.2e3,3.2e3,3.2e3,3.2e3,3.2e3,3.2e3,3.2e3],
  [7e3,3.5e3,3.45e3,3.42e3,3.41e3,3.4e3,3.4e3,3.4e3,3.4e3,3.4e3,3.4e3,3.4e3],
  [7.2e3,4e3,3.8e3,3.7e3,3.6e3,3.55e3,3.5e3,3.5e3,3.45e3,3.45e3,3.45e3,3.45e3],
  [6.8e3,3.35e3,3.3e3,3.28e3,3.27e3,3.26e3,3.25e3,3.25e3,3.25e3,3.25e3,3.25e3,3.25e3],
  [7e3,3.8e3,3.75e3,3.72e3,3.71e3,3.7e3,3.7e3,3.7e3,3.7e3,3.7e3,3.7e3,3.7e3],
  [7.2e3,3.9e3,3.85e3,3.8e3,3.79e3,3.78e3,3.78e3,3.78e3,3.78e3,3.78e3,3.78e3,3.78e3],
  [7e3,3.4e3,3.35e3,3.3e3,3.28e3,3.27e3,3.26e3,3.25e3,3.25e3,3.25e3,3.25e3,3.25e3],
  [6.5e3,3.5e3,3.48e3,3.47e3,3.46e3,3.45e3,3.45e3,3.45e3,3.45e3,3.45e3,3.45e3,3.45e3],
  [7e3,3.6e3,3.55e3,3.52e3,3.51e3,3.5e3,3.5e3,3.5e3,3.5e3,3.5e3,3.5e3,3.5e3],
  [6.8e3,3.45e3,3.4e3,3.39e3,3.38e3,3.38e3,3.38e3,3.38e3,3.38e3,3.38e3,3.38e3,3.38e3],
  [6.5e3,3.35e3,3.3e3,3.27e3,3.25e3,3.24e3,3.23e3,3.22e3,3.21e3,3.2e3,3.2e3,3.2e3],
  [7e3,3.5e3,3.45e3,3.42e3,3.41e3,3.4e3,3.4e3,3.4e3,3.3e3,3.25e3,3.22e3,3.2e3],
  [7e3,3.3e3,3.22e3,3.18e3,3.15e3,3.13e3,3.11e3,3.1e3,3.09e3,3.08e3,3.07e3,3.05e3]
];
var F25 = [
  [7e4,5.2e3,5.2e3,5.1e3,5.1e3,5.1e3,5.1e3,5.1e3,5.1e3,5.1e3,5.1e3,5.1e3],
  [6e4,1.2e4,1e4,7e3,5.5e3,4.7e3,4.2e3,4e3,3.8e3,3.7e3,3.6e3,3.5e3],
  [6e4,3.4e3,3.3e3,3.2e3,3.2e3,3.2e3,3.2e3,3.2e3,3.2e3,3.2e3,3.2e3,3.2e3],
  [7e4,3.8e3,3.6e3,3.5e3,3.5e3,3.4e3,3.4e3,3.4e3,3.4e3,3.4e3,3.4e3,3.4e3],
  [8e4,1.6e4,1.4e4,1e4,7e3,5.5e3,4.6e3,4.2e3,4e3,3.9e3,3.8e3,3.7e3],
  [6e4,3.6e3,3.5e3,3.4e3,3.4e3,3.4e3,3.4e3,3.4e3,3.4e3,3.4e3,3.4e3,3.4e3],
  [7e4,4.4e3,4.3e3,4.2e3,4.2e3,4.2e3,4.2e3,4.2e3,4.2e3,4.2e3,4.2e3,4.2e3],
  [8e4,5e3,5e3,5e3,5e3,5e3,5e3,5e3,5e3,5e3,5e3,5e3],
  [9e4,3.5e3,3.4e3,3.3e3,3.3e3,3.3e3,3.3e3,3.3e3,3.3e3,3.3e3,3.3e3,3.3e3],
  [3e4,3.2e3,3.1e3,3e3,3e3,3e3,3e3,3e3,3e3,3e3,3e3,3e3],
  [7e4,4e3,3.9e3,3.8e3,3.8e3,3.8e3,3.7e3,3.7e3,3.7e3,3.7e3,3.7e3,3.7e3],
  [6e4,3.6e3,3.5e3,3.5e3,3.5e3,3.5e3,3.5e3,3.5e3,3.5e3,3.5e3,3.5e3,3.5e3],
  [3e4,3.4e3,3.3e3,3.2e3,3.2e3,3.2e3,3.2e3,3.2e3,3.2e3,3.2e3,3.2e3,3.2e3],
  [7e4,4e3,3.9e3,3.8e3,3.8e3,3.8e3,3.8e3,3.8e3,3.4e3,3.3e3,3.3e3,3.3e3],
  [6e4,3.8e3,3.4e3,3.2e3,3.1e3,3.1e3,3.05e3,3.05e3,3e3,3e3,3e3,3e3]
];
var F26 = [
  [1.4e4,9e3,8.8e3,8.7e3,8.6e3,8.6e3,8.5e3,8.5e3,8.5e3,8.5e3,8.5e3,8.5e3],
  [1.4e4,9.5e3,9e3,8e3,7e3,6.3e3,5.8e3,5.4e3,5.1e3,4.8e3,4.6e3,4.4e3],
  [1.3e4,7e3,6.8e3,6.7e3,6.6e3,6.6e3,6.5e3,6.5e3,6.5e3,6.5e3,6.5e3,6.5e3],
  [1.4e4,8e3,7.8e3,7.6e3,7.5e3,7.4e3,7.3e3,7.3e3,7.2e3,7.2e3,7.2e3,7.2e3],
  [1.5e4,1.05e4,1e4,9.8e3,9.6e3,9.5e3,9.4e3,9.3e3,9.2e3,9.2e3,9.1e3,9.1e3],
  [1.3e4,7.5e3,7e3,6.8e3,6.7e3,6.6e3,6.6e3,6.5e3,6.5e3,6.5e3,6.5e3,6.5e3],
  [1.4e4,1e4,9.8e3,9.7e3,9.6e3,9.6e3,9.6e3,9.5e3,9.5e3,9.5e3,9.5e3,9.5e3],
  [1.5e4,1.12e4,1.1e4,1.08e4,1.07e4,1.06e4,1.05e4,1.05e4,1.05e4,1.05e4,1.05e4,1.05e4],
  [1.4e4,8.5e3,8e3,7.6e3,7.3e3,7e3,6.8e3,6.6e3,6.4e3,6.2e3,6e3,5.8e3],
  [1.1e4,8e3,7.8e3,7.7e3,7.6e3,7.6e3,7.5e3,7.5e3,7.5e3,7.5e3,7.5e3,7.5e3],
  [1.4e4,9e3,8.8e3,8.6e3,8.5e3,8.4e3,8.4e3,8.3e3,8.3e3,8.3e3,8.3e3,8.3e3],
  [1.3e4,8.2e3,8e3,7.9e3,7.8e3,7.8e3,7.7e3,7.7e3,7.7e3,7.7e3,7.7e3,7.7e3],
  [1.1e4,7.5e3,7e3,6.6e3,6.3e3,6.1e3,6e3,5.9e3,5.8e3,5.7e3,5.6e3,5.5e3],
  [1.4e4,8.5e3,8.3e3,8.2e3,8.1e3,8e3,8e3,8e3,6e3,5.5e3,5.3e3,5.2e3],
  [1.5e4,8.5e3,7.5e3,6.5e3,6e3,5.6e3,5.2e3,4.9e3,4.7e3,4.5e3,4.3e3,4.1e3]
];
var F27 = [
  [1.2e4,3.9e3,3.8e3,3.75e3,3.7e3,3.7e3,3.7e3,3.7e3,3.7e3,3.7e3,3.7e3,3.7e3],
  [1.15e4,4.2e3,3.9e3,3.7e3,3.6e3,3.55e3,3.5e3,3.5e3,3.45e3,3.45e3,3.4e3,3.4e3],
  [1.1e4,3.7e3,3.6e3,3.6e3,3.55e3,3.55e3,3.55e3,3.55e3,3.55e3,3.55e3,3.55e3,3.55e3],
  [1.2e4,3.8e3,3.7e3,3.65e3,3.6e3,3.6e3,3.6e3,3.6e3,3.6e3,3.6e3,3.6e3,3.6e3],
  [1.25e4,4.6e3,4.3e3,4.1e3,4e3,3.95e3,3.9e3,3.9e3,3.85e3,3.85e3,3.85e3,3.85e3],
  [1.1e4,3.6e3,3.55e3,3.5e3,3.5e3,3.5e3,3.5e3,3.5e3,3.5e3,3.5e3,3.5e3,3.5e3],
  [1.2e4,4.5e3,4.3e3,4.2e3,4.15e3,4.1e3,4.1e3,4.1e3,4.1e3,4.1e3,4.1e3,4.1e3],
  [1.25e4,4.6e3,4.4e3,4.25e3,4.2e3,4.15e3,4.15e3,4.15e3,4.15e3,4.15e3,4.15e3,4.15e3],
  [1.2e4,4.4e3,4.3e3,4.2e3,4.15e3,4.1e3,4.1e3,4.1e3,4.1e3,4.1e3,4.1e3,4.1e3],
  [7.5e3,4e3,3.9e3,3.85e3,3.8e3,3.8e3,3.8e3,3.8e3,3.8e3,3.8e3,3.8e3,3.8e3],
  [1.2e4,4e3,3.9e3,3.85e3,3.8e3,3.8e3,3.8e3,3.8e3,3.8e3,3.8e3,3.8e3,3.8e3],
  [1.15e4,3.9e3,3.8e3,3.75e3,3.75e3,3.75e3,3.75e3,3.75e3,3.75e3,3.75e3,3.75e3,3.75e3],
  [7.5e3,3.7e3,3.6e3,3.55e3,3.5e3,3.5e3,3.5e3,3.5e3,3.5e3,3.5e3,3.5e3,3.5e3],
  [1.2e4,3.8e3,3.7e3,3.65e3,3.6e3,3.6e3,3.6e3,3.6e3,3.6e3,3.6e3,3.6e3,3.6e3],
  [1.2e4,4.5e3,3.7e3,3.5e3,3.45e3,3.42e3,3.4e3,3.4e3,3.4e3,3.4e3,3.4e3,3.4e3]
];
var F28 = [
  [1.2e4,4.2e3,4.1e3,4e3,4e3,4e3,4e3,4e3,4e3,4e3,4e3,4e3],
  [1.2e4,5e3,4.6e3,4.2e3,3.9e3,3.7e3,3.6e3,3.5e3,3.45e3,3.4e3,3.35e3,3.3e3],
  [1.1e4,3.5e3,3.4e3,3.35e3,3.3e3,3.3e3,3.3e3,3.3e3,3.3e3,3.3e3,3.3e3,3.3e3],
  [1.2e4,3.8e3,3.7e3,3.6e3,3.6e3,3.6e3,3.6e3,3.6e3,3.6e3,3.6e3,3.6e3,3.6e3],
  [1.3e4,6e3,5.5e3,5e3,4.7e3,4.5e3,4.4e3,4.3e3,4.2e3,4.2e3,4.1e3,4.1e3],
  [1.1e4,3.7e3,3.6e3,3.5e3,3.5e3,3.5e3,3.5e3,3.5e3,3.5e3,3.5e3,3.5e3,3.5e3],
  [1.2e4,4.6e3,4.5e3,4.4e3,4.4e3,4.4e3,4.4e3,4.4e3,4.4e3,4.4e3,4.4e3,4.4e3],
  [1.3e4,5.5e3,5.4e3,5.3e3,5.3e3,5.3e3,5.3e3,5.3e3,5.3e3,5.3e3,5.3e3,5.3e3],
  [1.2e4,4e3,3.9e3,3.8e3,3.7e3,3.7e3,3.7e3,3.7e3,3.7e3,3.7e3,3.7e3,3.7e3],
  [8e3,3.9e3,3.8e3,3.7e3,3.7e3,3.7e3,3.7e3,3.7e3,3.7e3,3.7e3,3.7e3,3.7e3],
  [1.2e4,4.3e3,4.2e3,4.1e3,4.1e3,4.1e3,4.1e3,4.1e3,4.1e3,4.1e3,4.1e3,4.1e3],
  [1.1e4,3.8e3,3.7e3,3.7e3,3.6e3,3.6e3,3.6e3,3.6e3,3.6e3,3.6e3,3.6e3,3.6e3],
  [8e3,3.6e3,3.5e3,3.4e3,3.4e3,3.4e3,3.4e3,3.4e3,3.4e3,3.4e3,3.4e3,3.4e3],
  [1.2e4,4e3,3.9e3,3.9e3,3.9e3,3.9e3,3.9e3,3.9e3,3.6e3,3.5e3,3.4e3,3.4e3],
  [1.2e4,4.2e3,3.6e3,3.4e3,3.35e3,3.3e3,3.25e3,3.2e3,3.2e3,3.2e3,3.15e3,3.1e3]
];
var F29 = [
  [1.5e8,6.5e3,6.4e3,6.3e3,6.3e3,6.3e3,6.3e3,6.3e3,6.3e3,6.3e3,6.3e3,6.3e3],
  [1.2e8,6.2e3,6.1e3,6e3,6e3,6e3,6e3,6e3,6e3,6e3,6e3,6e3],
  [1e8,6e3,5.9e3,5.9e3,5.9e3,5.9e3,5.9e3,5.9e3,5.9e3,5.9e3,5.9e3,5.9e3],
  [1.5e8,6.3e3,6.2e3,6.2e3,6.2e3,6.2e3,6.2e3,6.2e3,6.2e3,6.2e3,6.2e3,6.2e3],
  [2e8,7.5e3,7e3,6.8e3,6.7e3,6.6e3,6.6e3,6.6e3,6.6e3,6.6e3,6.6e3,6.6e3],
  [1e8,6.1e3,6e3,6e3,6e3,6e3,6e3,6e3,6e3,6e3,6e3,6e3],
  [1.5e8,7e3,6.9e3,6.9e3,6.9e3,6.9e3,6.9e3,6.9e3,6.9e3,6.9e3,6.9e3,6.9e3],
  [2e8,7.8e3,7.5e3,7.4e3,7.4e3,7.4e3,7.4e3,7.4e3,7.4e3,7.4e3,7.4e3,7.4e3],
  [1.5e8,5.8e3,5.7e3,5.7e3,5.7e3,5.7e3,5.7e3,5.7e3,5.7e3,5.7e3,5.7e3,5.7e3],
  [1e5,6.5e3,6.4e3,6.4e3,6.4e3,6.4e3,6.4e3,6.4e3,6.4e3,6.4e3,6.4e3,6.4e3],
  [1.5e8,6.6e3,6.5e3,6.5e3,6.5e3,6.5e3,6.5e3,6.5e3,6.5e3,6.5e3,6.5e3,6.5e3],
  [1e8,6.3e3,6.2e3,6.2e3,6.2e3,6.2e3,6.2e3,6.2e3,6.2e3,6.2e3,6.2e3,6.2e3],
  [1e5,6e3,5.9e3,5.8e3,5.8e3,5.8e3,5.8e3,5.8e3,5.8e3,5.8e3,5.8e3,5.8e3],
  [1.5e8,6.4e3,6.3e3,6.3e3,6.3e3,6.3e3,6.3e3,6.3e3,6.1e3,6e3,6e3,6e3],
  [8e7,5.8e3,5.7e3,5.6e3,5.6e3,5.6e3,5.55e3,5.55e3,5.55e3,5.5e3,5.5e3,5.5e3]
];
var F30 = [
  [2e10,2e8,1.6e8,1.5e8,1.4e8,1.4e8,1.3e8,1.3e8,1.3e8,1.3e8,1.2e8,1.2e8],
  [2e10,5e8,3e8,1.5e8,8e7,5e7,3e7,1.8e7,1e7,6e6,4e6,2.5e6],
  [2e10,6e7,4e7,3e7,2.5e7,2.2e7,2e7,2e7,2e7,2e7,2e7,2e7],
  [2e10,3e8,2.5e8,2.3e8,2.2e8,2.1e8,2e8,2e8,2e8,2e8,2e8,2e8],
  [2e10,1.2e9,8e8,6e8,5e8,4.5e8,4e8,3.5e8,3e8,2.8e8,2.6e8,2.5e8],
  [2e10,3e7,1.5e7,1.3e7,1.3e7,1.3e7,1.3e7,1.3e7,1.3e7,1.3e7,1.3e7,1.3e7],
  [2e10,6e8,5e8,4.5e8,4.2e8,4e8,4e8,4e8,4e8,4e8,4e8,4e8],
  [2e10,1.2e9,1e9,9e8,8.5e8,8e8,8e8,8e8,8e8,8e8,8e8,8e8],
  [2e10,3e8,2e8,1.5e8,1.2e8,1e8,8e7,7e7,6e7,5e7,4.5e7,4e7],
  [1e10,5e7,1.2e7,4e6,2.8e6,2.4e6,2.2e6,2e6,1.9e6,1.8e6,1.7e6,1.6e6],
  [2e10,4e8,3e8,2.8e8,2.6e8,2.5e8,2.4e8,2.3e8,2.2e8,2.1e8,2e8,2e8],
  [2e10,1.5e8,1.2e8,1.1e8,1e8,1e8,1e8,9e7,9e7,9e7,9e7,9e7],
  [1e10,1e8,6e7,4e7,3.2e7,2.8e7,2.5e7,2.3e7,2.2e7,2.1e7,2e7,2e7],
  [2e10,6e8,5e8,4.5e8,4.2e8,4e8,3.8e8,3.6e8,3e7,2.5e7,2.2e7,2e7],
  [2e10,3e8,1e8,7e7,5.5e7,4.5e7,3.5e7,2.8e7,2.3e7,1.8e7,1.3e7,6e6]
];

// y ranges and labelled y ticks of every panel
var panels = [
  {name: 'F1',  data: F1,  yr: [2e6, 3e11],    yt: [1e7, 1e8, 1e9, 1e10, 1e11]},
  {name: 'F3',  data: F3,  yr: [6e3, 2e15],    yt: [1e4, 1e6, 1e8, 1e10, 1e12, 1e14]},
  {name: 'F4',  data: F4,  yr: [530, 1.3e4],   yt: [1e3, 1e4]},
  {name: 'F5',  data: F5,  yr: [640, 1620],    yt: [700, 800, 900, 1000, 1100, 1200, 1300, 1400, 1500, 1600]},
  {name: 'F6',  data: F6,  yr: [618, 815],     yt: [640, 660, 680, 700, 720, 740, 760, 780, 800]},
  {name: 'F7',  data: F7,  yr: [905, 5240],    yt: [1000, 1500, 2000, 2500, 3000, 3500, 4000, 4500, 5000]},
  {name: 'F8',  data: F8,  yr: [950, 1750],    yt: [1000, 1100, 1200, 1300, 1400, 1500, 1600, 1700]},
  {name: 'F9',  data: F9,  yr: [845, 3.6e4],   yt: [1e3, 1e4]},
  {name: 'F10', data: F10, yr: [4.6e3, 1.35e4], yt: [5e3, 6e3, 7e3, 8e3, 9e3, 1e4, 1.1e4, 1.2e4, 1.3e4]},
  {name: 'F11', data: F11, yr: [2.3e3, 4.4e10], yt: [1e4, 1e6, 1e8, 1e10]},
  {name: 'F12', data: F12, yr: [4.6e6, 6.7e10], yt: [1e7, 1e8, 1e9, 1e10]},
  {name: 'F13', data: F13, yr: [1.6e5, 1.3e11], yt: [1e6, 1e7, 1e8, 1e9, 1e10, 1e11]},
  {name: 'F14', data: F14, yr: [5e4, 3e8],     yt: [1e5, 1e6, 1e7, 1e8]},
  {name: 'F15', data: F15, yr: [2e4, 1e11],    yt: [1e5, 1e6, 1e7, 1e8, 1e9, 1e10]},
  {name: 'F16', data: F16, yr: [2e3, 1.1e4],   yt: [1e4]},
  {name: 'F17', data: F17, yr: [2e3, 1.5e8],   yt: [1e4, 1e5, 1e6, 1e7]},
  {name: 'F18', data: F18, yr: [4.5e5, 3e10],  yt: [1e6, 1e7, 1e8, 1e9]},
  {name: 'F19', data: F19, yr: [2.1e5, 4.6e10], yt: [1e6, 1e7, 1e8, 1e9]},
  {name: 'F20', data: F20, yr: [2e3, 5.3e3],   yt: [2e3, 2.5e3, 3e3, 3.5e3, 4e3, 4.5e3, 5e3]},
  {name: 'F22', data: F22, yr: [2.49e3, 1.55e4], yt: [4e3, 6e3, 8e3, 1e4, 1.2e4, 1.4e4]},
  {name: 'F21', data: F21, yr: [2.25e3, 4e3],  yt: [2.4e3, 2.6e3, 2.8e3, 3e3, 3.2e3, 3.4e3, 3.6e3, 3.8e3]},
  {name: 'F23', data: F23, yr: [2.9e3, 6.8e3], yt: [3e3, 3.5e3, 4e3, 4.5e3, 5e3, 5.5e3, 6e3, 6.5e3]},
  {name: 'F24', data: F24, yr: [2.9e3, 7.3e3], yt: [3e3, 3.5e3, 4e3, 5e3, 6e3, 7e3]},
  {name: 'F25', data: F25, yr: [2.8e3, 9e4],   yt: [1e4]},
  {name: 'F26', data: F26, yr: [3.8e3, 1.6e4], yt: [1e4]},
  {name: 'F27', data: F27, yr: [3.35e3, 1.26e4], yt: [4e3, 5e3, 6e3, 7e3, 8e3, 9e3, 1e4, 1.1e4, 1.2e4]},
  {name: 'F28', data: F28, yr: [3e3, 1.5e4],   yt: [1e4]},
  {name: 'F29', data: F29, yr: [5.4e3, 2.1e8], yt: [1e4, 1e5, 1e6, 1e7, 1e8]},
  {name: 'F30', data: F30, yr: [1.45e6, 2.8e10], yt: [1e7, 1e8, 1e9, 1e10]}
];

// zoomed insets (same series, narrower window)
var insets = [
  {of: 'F17', xr: [2.22, 2.32], xt: [2.22, 2.24, 2.26, 2.28, 2.3, 2.32], yr: [2.3e3, 6.5e3], yt: [3e3, 4e3, 5e3, 6e3], box: [587, 457, 671, 513], to: [2.0, 4.6e3]},
  {of: 'F27', xr: [2.37, 2.62], xt: [2.4, 2.45, 2.5, 2.55, 2.6], yr: [3.3e3, 4.3e3], yt: [3.5e3, 4e3], box: [247, 876, 308, 932], to: [2.6, 3.6e3]},
  {of: 'F29', xr: [2.83, 2.98], xt: [2.85, 2.9, 2.95], yr: [5.3e3, 8e3], yt: [6e3, 7e3], box: [592, 892, 657, 947], to: [2.78, 8.5e3]}
];

var grid = [
  ['F1', 'F3', 'F4', 'F5'],
  ['F6', 'F7', 'F8', 'F9'],
  ['F10', 'F11', 'F12', 'F13'],
  ['F14', 'F15', 'F16', 'F17'],
  ['F18', 'F19', 'F20', 'F22'],
  ['F21', 'F23', 'F24', 'F25'],
  ['F26', 'F27', 'F28', 'F29'],
  ['F30']
];

var colors = ['#000000', '#7676b6', '#9c1c9c', '#e23ee2', '#2b2bff', '#6ec2ff', '#5fdfc0', '#309c96', '#22e022', '#f6e64c', '#c99e9e', '#c6be1a', '#ff9a3a', '#e272c0', '#ff0000'];
var shapes = ['cross', 'circle', 'circle', 'crossRot', 'rect', 'rectRot', 'triangle', 'triangle', 'triangle', 'triangle', 'line', 'circle', 'circle', 'rect', 'star'];
var turns = [0, 0, 0, 0, 0, 0, 0, 180, 90, -90, 90, 0, 0, 0, 0];
var solid = [false, false, true, false, true, false, false, false, false, false, false, false, true, false, true];

var serif = '"Liberation Serif", "Times New Roman", serif';
var page = document.getElementById('page');

function makeStar(size, color) {
  var c = document.createElement('canvas');
  c.width = size; c.height = size;
  var g = c.getContext('2d');
  g.fillStyle = color;
  g.beginPath();
  for (var k = 0; k < 10; k++) {
    var r = k % 2 ? size * 0.2 : size * 0.5;
    var a = -Math.PI / 2 + k * Math.PI / 5;
    g.lineTo(size / 2 + r * Math.cos(a), size / 2 + 0.5 + r * Math.sin(a));
  }
  g.closePath();
  g.fill();
  return c;
}
var star = makeStar(7, '#ff0000');

var supDigits = {'0': '\u2070', '1': '\u00b9', '2': '\u00b2', '3': '\u00b3', '4': '\u2074', '5': '\u2075', '6': '\u2076', '7': '\u2077', '8': '\u2078', '9': '\u2079'};
function sup(n) {
  return String(n).split('').map(function (d) { return supDigits[d]; }).join('');
}
function fmt(v) {
  if (v < 1000) return String(v);
  var e = Math.floor(Math.log10(v) + 1e-9);
  var m = Math.round(v / Math.pow(10, e) * 100) / 100;
  return m + '\u00d710' + sup(e);
}

function yTicks(min, max, labels) {
  var vals = labels.slice();
  for (var e = Math.floor(Math.log10(min)); e <= Math.ceil(Math.log10(max)); e++) {
    for (var m = 1; m < 10; m++) vals.push(m * Math.pow(10, e));
  }
  if (labels.length > 1 && labels[1] / labels[0] < 9) {
    for (var i = 0; i < labels.length - 1; i++) vals.push((labels[i] + labels[i + 1]) / 2);
  }
  var seen = {}, out = [];
  vals.sort(function (a, b) { return a - b; });
  for (var j = 0; j < vals.length; j++) {
    var v = vals[j], key = v.toPrecision(6);
    if (v < min || v > max || seen[key]) continue;
    seen[key] = 1;
    out.push({value: v, lab: labels.indexOf(v) >= 0});
  }
  return out;
}

function xTicksMain() {
  var out = [];
  for (var k = 1; k <= 30; k++) out.push({value: k / 10, lab: k % 5 == 0});
  return out;
}

function gridColor(ctx) {
  return ctx.tick && ctx.tick.lab ? '#d8d8d8' : '#ededed';
}

function makeDatasets(data, small) {
  var ds = [];
  for (var i = 0; i < algos.length; i++) {
    var pts = [];
    for (var j = 0; j < fes.length; j++) pts.push({x: fes[j], y: data[i][j]});
    ds.push({
      label: algos[i],
      data: pts,
      borderColor: colors[i],
      backgroundColor: colors[i],
      borderWidth: i == 14 ? 1.4 : 0.9,
      pointStyle: i == 14 ? star : shapes[i],
      pointRotation: turns[i],
      pointRadius: small ? 1.3 : 1.6,
      pointBorderWidth: 0.8,
      pointBackgroundColor: solid[i] ? colors[i] : 'rgba(255,255,255,0)',
      order: 15 - i,
      tension: 0,
      fill: false
    });
  }
  return ds;
}

function drawArrow(g, x1, y1, x2, y2) {
  var a = Math.atan2(y2 - y1, x2 - x1);
  g.strokeStyle = '#333';
  g.fillStyle = '#111';
  g.lineWidth = 0.6;
  g.beginPath(); g.moveTo(x1, y1); g.lineTo(x2, y2); g.stroke();
  g.beginPath();
  g.moveTo(x2, y2);
  g.lineTo(x2 - 5 * Math.cos(a - 0.4), y2 - 5 * Math.sin(a - 0.4));
  g.lineTo(x2 - 5 * Math.cos(a + 0.4), y2 - 5 * Math.sin(a + 0.4));
  g.closePath(); g.fill();
}

function pointMark(g, i, x, y, r) {
  g.save();
  g.strokeStyle = colors[i];
  g.fillStyle = solid[i] ? colors[i] : 'rgba(255,255,255,0)';
  g.lineWidth = 1;
  if (i == 14) {
    var s = makeStar(Math.round(r * 3.4), '#ff0000');
    g.drawImage(s, x - s.width / 2, y - s.height / 2);
  } else if (Chart.helpers && Chart.helpers.drawPoint) {
    Chart.helpers.drawPoint(g, {pointStyle: shapes[i], rotation: turns[i], radius: r, borderWidth: 1}, x, y);
  } else {
    g.beginPath(); g.arc(x, y, r, 0, Math.PI * 2); g.fill(); g.stroke();
  }
  g.restore();
}

// box, title, x exponent, arrows and the boxed legend of F25
var frame = {
  id: 'frame',
  beforeDraw: function (c) {
    var a = c.chartArea, g = c.ctx;
    g.save(); g.fillStyle = '#fff'; g.fillRect(a.left, a.top, a.right - a.left, a.bottom - a.top); g.restore();
  },
  afterDraw: function (c, args, o) {
    var a = c.chartArea, g = c.ctx;
    g.save();
    g.strokeStyle = '#262626'; g.lineWidth = 0.7;
    g.strokeRect(a.left, a.top, a.right - a.left, a.bottom - a.top);
    g.fillStyle = '#1a1a1a';
    g.textBaseline = 'middle';
    if (o.title) {
      g.font = '8px ' + serif; g.textAlign = 'center';
      g.fillText(o.title, (a.left + a.right) / 2, a.top - 6);
    }
    g.font = (o.inset ? 4.5 : 5.5) + 'px ' + serif; g.textAlign = 'right';
    g.fillText('\u00d710\u2074', a.right + (o.inset ? 0 : 2), a.bottom + (o.inset ? 11 : 15));
    if (o.arrow) {
      var ar = o.arrow;
      drawArrow(g, ar.from[0] - ar.left, ar.from[1] - ar.top, c.scales.x.getPixelForValue(ar.to[0]), c.scales.y.getPixelForValue(ar.to[1]));
    }
    if (o.legendBox) {
      var bx = a.right - 38, by = a.top + 3, bw = 37.5, bh = 84;
      g.fillStyle = '#fff'; g.fillRect(bx, by, bw, bh);
      g.strokeStyle = '#333'; g.lineWidth = 0.5; g.strokeRect(bx, by, bw, bh);
      g.font = '4.4px "Liberation Sans", Arial, sans-serif'; g.textAlign = 'left'; g.fillStyle = '#111';
      for (var i = 0; i < algos.length; i++) {
        var yy = by + 4.6 + i * 5.4;
        g.strokeStyle = colors[i]; g.lineWidth = i == 14 ? 1 : 0.7;
        g.beginPath(); g.moveTo(bx + 2, yy); g.lineTo(bx + 12, yy); g.stroke();
        pointMark(g, i, bx + 7, yy, 1.1);
        g.fillStyle = '#111';
        g.fillText(algos[i], bx + 14, yy);
      }
    }
    g.restore();
  }
};

var colLeft = [0, 173, 349, 524.5];
function rowTop(r) { return 11.5 + 141.4 * r - 12; }

function drawPanel(p, left, top) {
  var cv = document.createElement('canvas');
  cv.width = 177; cv.height = 147;
  cv.style.left = left + 'px'; cv.style.top = top + 'px';
  page.appendChild(cv);
  var arrow = null;
  insets.forEach(function (s) {
    if (s.of == p.name) arrow = {from: [s.box[2], s.box[3]], to: s.to, left: left, top: top};
  });
  new Chart(cv, {
    type: 'line',
    data: {datasets: makeDatasets(p.data, false)},
    options: {
      responsive: false, animation: false, events: [],
      layout: {padding: {top: 12, right: 5, left: 0, bottom: 0}},
      plugins: {
        legend: {display: false}, tooltip: {enabled: false},
        frame: {title: 'CEC2017-' + p.name + ' (Dim=30)', arrow: arrow, legendBox: p.name == 'F25'}
      },
      scales: {
        x: {
          type: 'linear', min: 0, max: 3,
          afterBuildTicks: function (s) { s.ticks = xTicksMain(); },
          afterFit: function (s) { s.height = 24; },
          ticks: {autoSkip: false, maxRotation: 0, padding: 2, color: '#262626', font: {family: serif, size: 6},
            callback: function (v, i, t) { return t[i].lab ? String(Math.round(v * 10) / 10) : ''; }},
          grid: {drawTicks: false, color: gridColor, lineWidth: 0.6},
          border: {display: false},
          title: {display: true, text: 'FES', color: '#262626', font: {family: serif, size: 7.5}, padding: {top: 0, bottom: 5}}
        },
        y: {
          type: 'logarithmic', min: p.yr[0], max: p.yr[1],
          afterBuildTicks: function (s) { s.ticks = yTicks(p.yr[0], p.yr[1], p.yt); },
          afterFit: function (s) { s.width = 28; },
          ticks: {autoSkip: false, padding: 1.5, color: '#262626', font: {family: serif, size: 5},
            callback: function (v, i, t) { return t[i].lab ? fmt(v) : ''; }},
          grid: {drawTicks: false, color: gridColor, lineWidth: 0.6},
          border: {display: false},
          title: {display: true, text: 'Mean Fitness Value', color: '#262626', font: {family: serif, size: 7}, padding: {top: 3, bottom: 0}}
        }
      }
    },
    plugins: [frame]
  });
}

function drawInset(s) {
  var p = panels.filter(function (q) { return q.name == s.of; })[0];
  var bw = s.box[2] - s.box[0], bh = s.box[3] - s.box[1];
  var cv = document.createElement('canvas');
  cv.width = bw + 22 + 3; cv.height = bh + 2 + 14;
  cv.style.left = (s.box[0] - 22) + 'px'; cv.style.top = (s.box[1] - 2) + 'px';
  page.appendChild(cv);
  new Chart(cv, {
    type: 'line',
    data: {datasets: makeDatasets(p.data, true)},
    options: {
      responsive: false, animation: false, events: [],
      layout: {padding: {top: 2, right: 3, left: 0, bottom: 0}},
      plugins: {legend: {display: false}, tooltip: {enabled: false}, frame: {inset: true}},
      scales: {
        x: {
          type: 'linear', min: s.xr[0], max: s.xr[1],
          afterBuildTicks: function (sc) { sc.ticks = s.xt.map(function (v) { return {value: v, lab: true}; }); },
          afterFit: function (sc) { sc.height = 14; },
          ticks: {autoSkip: false, maxRotation: 0, padding: 1.5, color: '#262626', font: {family: serif, size: 4.5},
            callback: function (v) { return String(Math.round(v * 100) / 100); }},
          grid: {drawTicks: false, color: '#e4e4e4', lineWidth: 0.5},
          border: {display: false}
        },
        y: {
          type: 'logarithmic', min: s.yr[0], max: s.yr[1],
          afterBuildTicks: function (sc) { sc.ticks = yTicks(s.yr[0], s.yr[1], s.yt); },
          afterFit: function (sc) { sc.width = 22; },
          ticks: {autoSkip: false, padding: 1.5, color: '#262626', font: {family: serif, size: 4.5},
            callback: function (v, i, t) { return t[i].lab ? fmt(v) : ''; }},
          grid: {drawTicks: false, color: gridColor, lineWidth: 0.5},
          border: {display: false}
        }
      }
    },
    plugins: [frame]
  });
}

// bottom legend, column-major like the original figure
function drawLegend() {
  var colX = [282, 357, 421, 493, 557];
  var rowY = [1048, 1061, 1074];
  for (var i = 0; i < algos.length; i++) {
    var col = Math.floor(i / 3), row = i % 3;
    var x0 = colX[col], y0 = rowY[row];
    var cv = document.createElement('canvas');
    cv.width = 34; cv.height = 14;
    cv.style.left = (x0 - 2) + 'px'; cv.style.top = (y0 - 7) + 'px';
    page.appendChild(cv);
    var g = cv.getContext('2d');
    g.strokeStyle = colors[i]; g.lineWidth = i == 14 ? 2 : 1.5;
    g.beginPath(); g.moveTo(2, 7); g.lineTo(32, 7); g.stroke();
    pointMark(g, i, 17, 7, 2.3);
    var t = document.createElement('div');
    t.className = 'lg';
    t.style.left = (x0 + 32) + 'px'; t.style.top = (y0 - 7) + 'px';
    t.textContent = algos[i];
    page.appendChild(t);
  }
}

for (var r = 0; r < grid.length; r++) {
  for (var c = 0; c < grid[r].length; c++) {
    var p = panels.filter(function (q) { return q.name == grid[r][c]; })[0];
    drawPanel(p, colLeft[c], rowTop(r));
  }
}
insets.forEach(drawInset);
drawLegend();
</script>
</body>
</html>
